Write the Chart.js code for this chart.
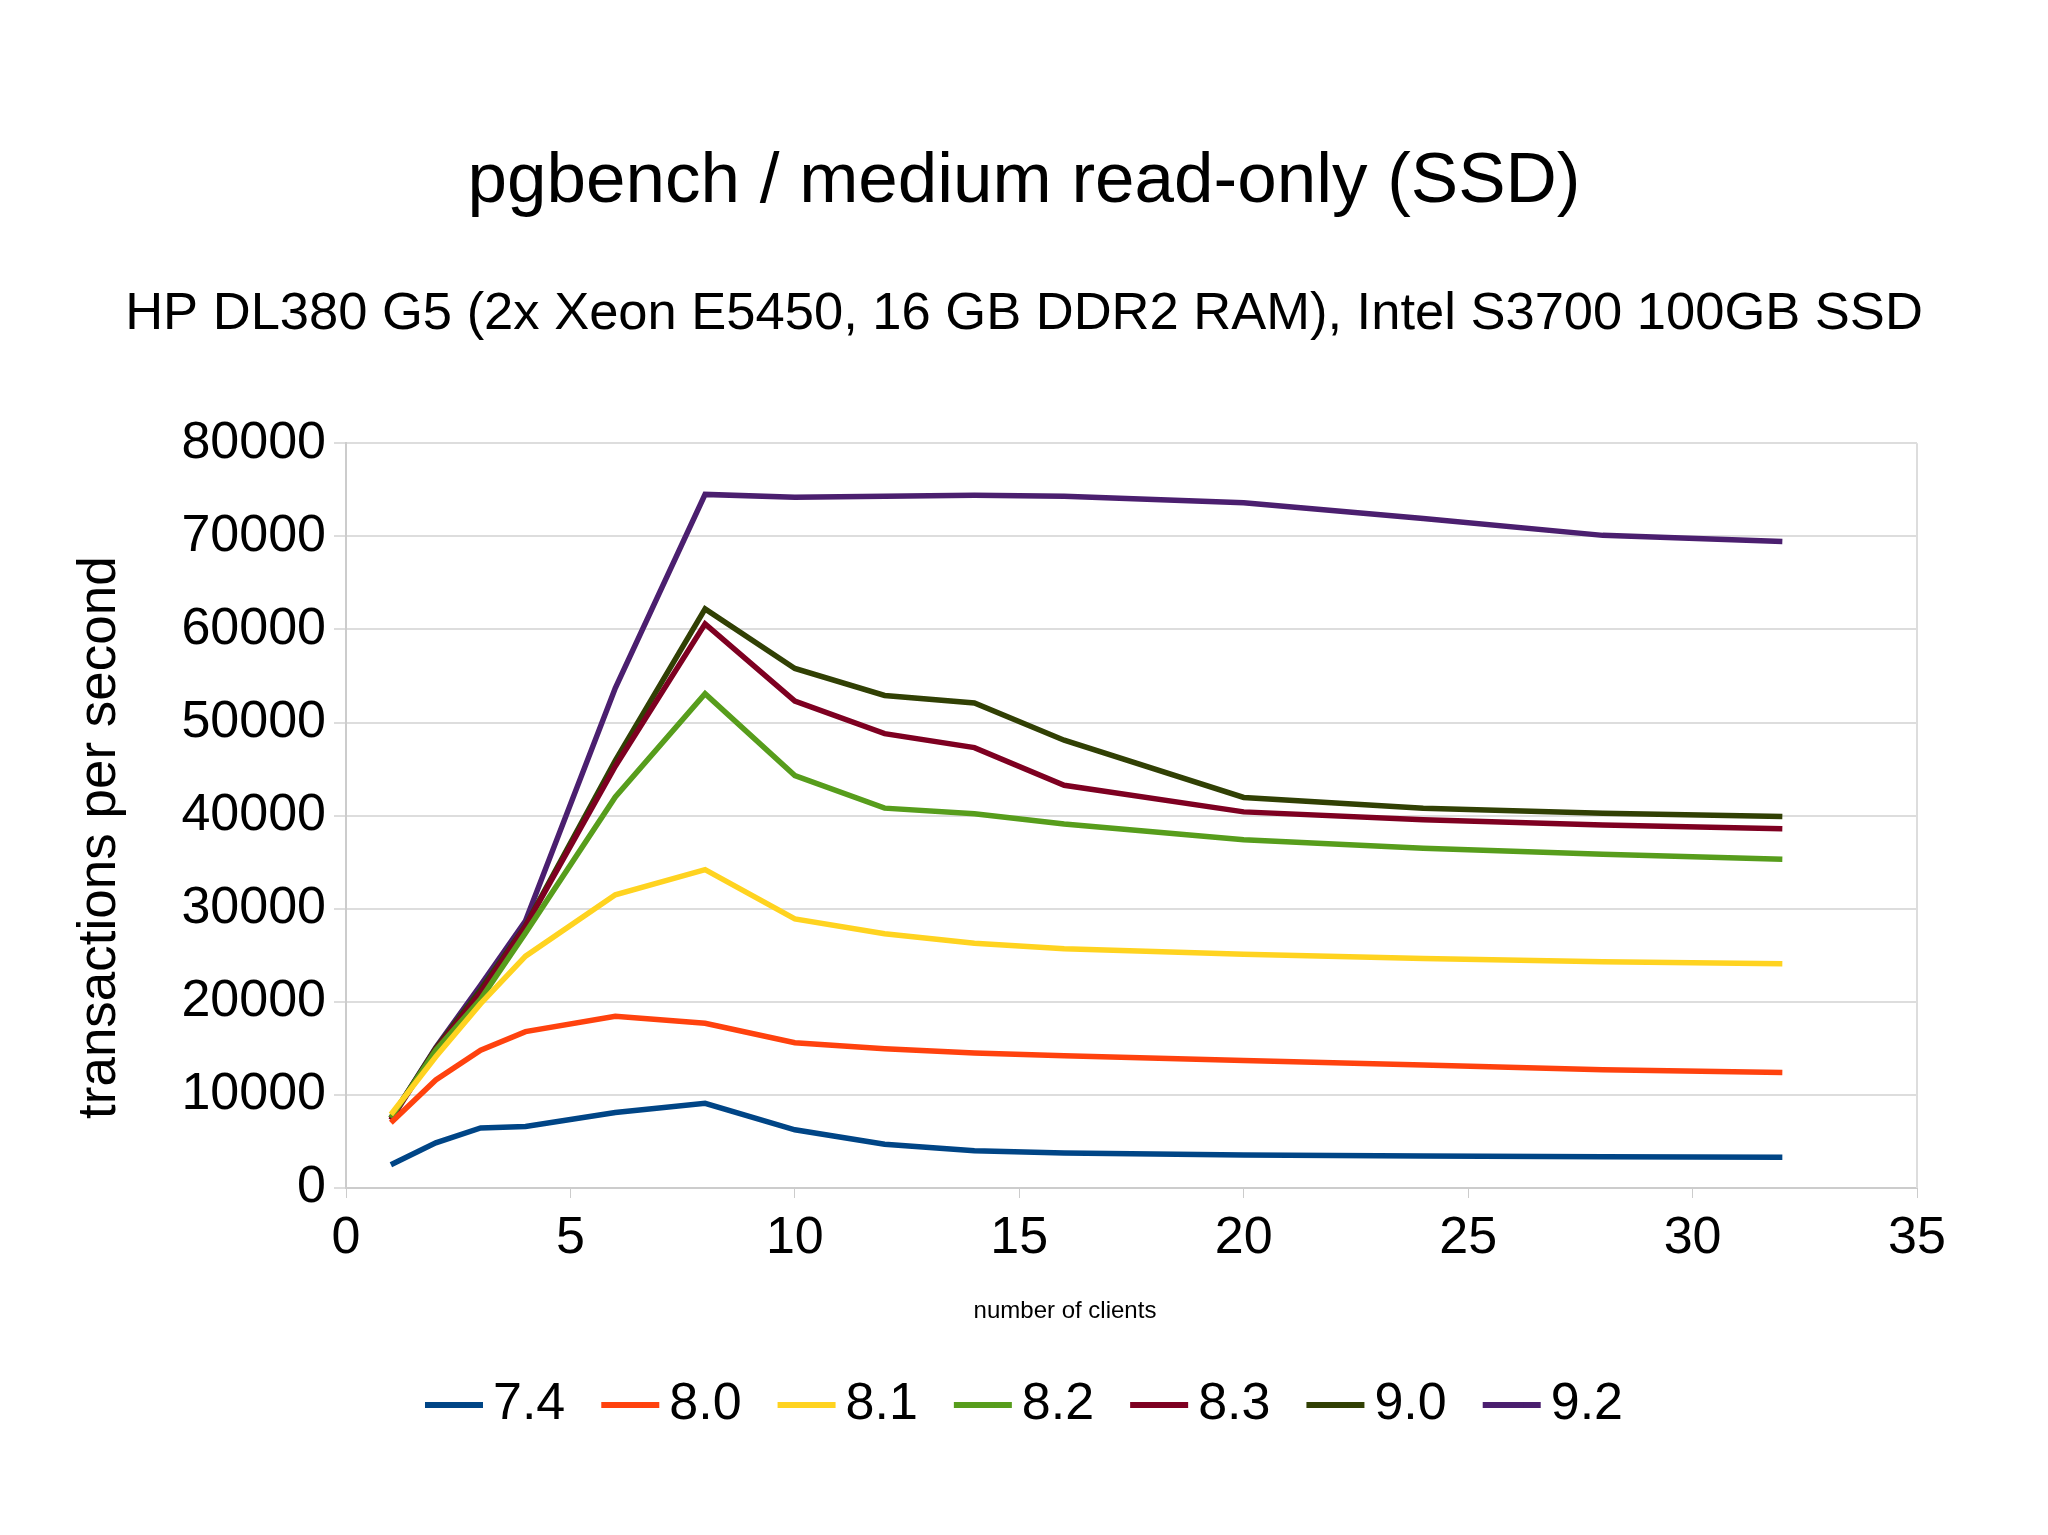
<!DOCTYPE html>
<html>
<head>
<meta charset="utf-8">
<script src="https://cdn.jsdelivr.net/npm/chart.js@4.4.1/dist/chart.umd.min.js"></script>
<style>
  html, body { margin: 0; padding: 0; background: #fff; }
  canvas { display: block; }
</style>
</head>
<body>
<canvas id="chart" width="2048" height="1535"></canvas>
<script>
// number of clients
const clients = [1, 2, 3, 4, 6, 8, 10, 12, 14, 16, 20, 24, 28, 32];

// transactions per second, per PostgreSQL version
const v74 = [2500, 4850, 6450, 6600, 8100, 9100, 6250, 4700, 4000, 3750, 3550, 3450, 3350, 3300];
const v80 = [7000, 11600, 14800, 16800, 18450, 17700, 15600, 14950, 14500, 14200, 13700, 13200, 12700, 12400];
const v81 = [7900, 14100, 19800, 24900, 31500, 34200, 28900, 27300, 26300, 25700, 25100, 24650, 24300, 24100];
const v82 = [7550, 14800, 20300, 27400, 42000, 53100, 44300, 40800, 40200, 39100, 37400, 36500, 35850, 35300];
const v83 = [7300, 14900, 21000, 28100, 45300, 60600, 52300, 48800, 47300, 43250, 40400, 39550, 39000, 38600];
const v90 = [7500, 15000, 21300, 28200, 45900, 62200, 55800, 52900, 52100, 48100, 41950, 40800, 40250, 39900];
const v92 = [7500, 15100, 21800, 28700, 53700, 74500, 74200, 74300, 74400, 74300, 73600, 71900, 70100, 69450];

const versions = ['7.4', '8.0', '8.1', '8.2', '8.3', '9.0', '9.2'];
const series = [v74, v80, v81, v82, v83, v90, v92];
const colors = ['#004586', '#ff420e', '#ffd320', '#579d1c', '#7e0021', '#314004', '#4b1f6f'];

const yTicks = [0, 10000, 20000, 30000, 40000, 50000, 60000, 70000, 80000];
const xTicks = [0, 5, 10, 15, 20, 25, 30, 35];

Chart.defaults.font.family = '"Liberation Sans", Arial, sans-serif';
Chart.defaults.color = '#000';

const datasets = series.map((vals, i) => ({
  label: versions[i],
  data: clients.map((c, j) => ({ x: c, y: vals[j] })),
  borderColor: colors[i],
  backgroundColor: colors[i],
  borderWidth: 5.5,
  pointRadius: 0,
  tension: 0,
  fill: false
}));

// wall edge on the right, axis titles, and longer legend lines
const extras = {
  id: 'extras',
  afterDraw(chart) {
    const a = chart.chartArea, ctx = chart.ctx;
    ctx.save();
    ctx.strokeStyle = '#dddddd';
    ctx.lineWidth = 2;
    ctx.beginPath();
    ctx.moveTo(a.right, a.top);
    ctx.lineTo(a.right, a.bottom);
    ctx.stroke();

    ctx.fillStyle = '#000';
    ctx.textAlign = 'center';
    ctx.textBaseline = 'middle';
    ctx.font = '24px "Liberation Sans", Arial, sans-serif';
    ctx.fillText('number of clients', 1065, 1311);

    ctx.save();
    ctx.translate(100, a.top + (a.bottom - a.top) / 2 + 22);
    ctx.rotate(-Math.PI / 2);
    ctx.font = '53px "Liberation Sans", Arial, sans-serif';
    ctx.fillText('transactions per second', 0, 0);
    ctx.restore();

    // legend lines run a bit closer to their labels
    const lg = chart.legend;
    lg.legendHitBoxes.forEach((hb, i) => {
      ctx.fillStyle = colors[i];
      ctx.fillRect(hb.left + 41, hb.top + (52 - 6) / 2, 17, 6);
    });
    ctx.restore();
  }
};

new Chart(document.getElementById('chart'), {
  type: 'line',
  data: { datasets },
  plugins: [extras],
  options: {
    responsive: false,
    animation: false,
    devicePixelRatio: 1,
    layout: { padding: { left: 0, right: 0, top: 0, bottom: 94 } },
    plugins: {
      title: {
        display: true,
        text: 'pgbench / medium read-only (SSD)',
        font: { size: 71, weight: 'normal' },
        padding: { top: 140, bottom: 0 }
      },
      subtitle: {
        display: true,
        text: 'HP DL380 G5 (2x Xeon E5450, 16 GB DDR2 RAM), Intel S3700 100GB SSD',
        font: { size: 52.5 },
        color: '#000',
        padding: { top: 58, bottom: 97 }
      },
      legend: {
        position: 'bottom',
        labels: {
          boxWidth: 42,
          boxHeight: 6,
          padding: 36,
          font: { size: 52 },
          generateLabels(chart) {
            const items = Chart.defaults.plugins.legend.labels.generateLabels(chart);
            items.forEach(it => { it.lineWidth = 0; });
            return items;
          }
        }
      },
      tooltip: { enabled: false }
    },
    scales: {
      x: {
        type: 'linear',
        min: 0,
        max: 35,
        afterBuildTicks(s) { s.ticks = xTicks.map(v => ({ value: v })); },
        grid: { drawOnChartArea: false, drawTicks: true, tickLength: 10, color: '#cccccc' },
        border: { display: true, color: '#cccccc', width: 2 },
        ticks: { font: { size: 52 }, padding: 9, maxRotation: 0 },
        afterFit(s) { s.height = 155; }
      },
      y: {
        min: 0,
        max: 80000,
        afterBuildTicks(s) { s.ticks = yTicks.map(v => ({ value: v })); },
        grid: { color: '#dddddd', lineWidth: 2, tickLength: 12 },
        border: { display: true, color: '#cccccc', width: 2 },
        ticks: { font: { size: 52 }, padding: 8, callback: v => String(v) },
        afterFit(s) { s.width = 346; }
      },
      yRight: {
        position: 'right',
        display: true,
        grid: { display: false },
        border: { display: false },
        ticks: { display: false },
        afterFit(s) { s.width = 131; }
      }
    }
  }
});
</script>
</body>
</html>
